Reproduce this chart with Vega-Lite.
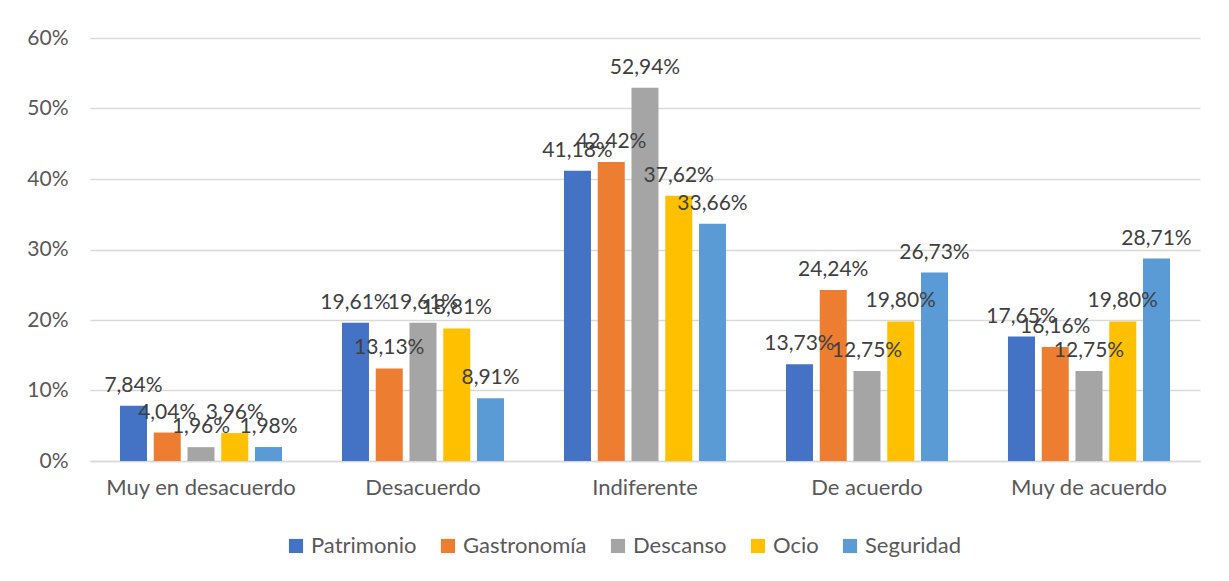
{
  "$schema": "https://vega.github.io/schema/vega-lite/v6.json",
  "autosize": {"type": "none"},
  "width": 1110,
  "height": 423,
  "padding": {"left": 90, "top": 38, "right": 29, "bottom": 120},
  "background": "white",
  "config": {
    "locale": {"number": {"decimal": ",", "thousands": ".", "grouping": [3], "currency": ["", " €"]}},
    "view": {"stroke": null},
    "font": "Lato"
  },
  "data": {
    "values": [
      {"cat": "Muy en desacuerdo", "serie": "Patrimonio", "v": 0.0784},
      {"cat": "Muy en desacuerdo", "serie": "Gastronomía", "v": 0.0404},
      {"cat": "Muy en desacuerdo", "serie": "Descanso", "v": 0.0196},
      {"cat": "Muy en desacuerdo", "serie": "Ocio", "v": 0.0396},
      {"cat": "Muy en desacuerdo", "serie": "Seguridad", "v": 0.0198},
      {"cat": "Desacuerdo", "serie": "Patrimonio", "v": 0.1961},
      {"cat": "Desacuerdo", "serie": "Gastronomía", "v": 0.1313},
      {"cat": "Desacuerdo", "serie": "Descanso", "v": 0.1961},
      {"cat": "Desacuerdo", "serie": "Ocio", "v": 0.1881},
      {"cat": "Desacuerdo", "serie": "Seguridad", "v": 0.0891},
      {"cat": "Indiferente", "serie": "Patrimonio", "v": 0.4118},
      {"cat": "Indiferente", "serie": "Gastronomía", "v": 0.4242},
      {"cat": "Indiferente", "serie": "Descanso", "v": 0.5294},
      {"cat": "Indiferente", "serie": "Ocio", "v": 0.3762},
      {"cat": "Indiferente", "serie": "Seguridad", "v": 0.3366},
      {"cat": "De acuerdo", "serie": "Patrimonio", "v": 0.1373},
      {"cat": "De acuerdo", "serie": "Gastronomía", "v": 0.2424},
      {"cat": "De acuerdo", "serie": "Descanso", "v": 0.1275},
      {"cat": "De acuerdo", "serie": "Ocio", "v": 0.198},
      {"cat": "De acuerdo", "serie": "Seguridad", "v": 0.2673},
      {"cat": "Muy de acuerdo", "serie": "Patrimonio", "v": 0.1765},
      {"cat": "Muy de acuerdo", "serie": "Gastronomía", "v": 0.1616},
      {"cat": "Muy de acuerdo", "serie": "Descanso", "v": 0.1275},
      {"cat": "Muy de acuerdo", "serie": "Ocio", "v": 0.198},
      {"cat": "Muy de acuerdo", "serie": "Seguridad", "v": 0.2871}
    ]
  },
  "encoding": {
    "x": {
      "field": "cat", "type": "nominal",
      "sort": ["Muy en desacuerdo", "Desacuerdo", "Indiferente", "De acuerdo", "Muy de acuerdo"],
      "scale": {"paddingInner": 0.27, "paddingOuter": 0.135},
      "axis": {"title": null, "labelAngle": 0, "labelFontSize": 22, "labelColor": "#595959", "labelPadding": 16, "ticks": false, "domainColor": "#d9d9d9", "domainWidth": 1.5, "labelFont": "Lato", "labelOverlap": false, "labelLimit": 0}
    },
    "xOffset": {
      "field": "serie", "type": "nominal",
      "sort": ["Patrimonio", "Gastronomía", "Descanso", "Ocio", "Seguridad"],
      "scale": {"paddingInner": 0.2, "paddingOuter": 0}
    },
    "y": {
      "field": "v", "type": "quantitative",
      "scale": {"domain": [0, 0.6]},
      "axis": {"title": null, "format": ".0%", "values": [0, 0.1, 0.2, 0.3, 0.4, 0.5, 0.6], "labelFontSize": 21, "labelColor": "#595959", "labelPadding": 22, "ticks": false, "domain": false, "gridColor": "#d9d9d9", "gridWidth": 1.5, "labelFont": "Lato", "labelOverlap": false}
    }
  },
  "layer": [
    {
      "mark": {"type": "bar"},
      "encoding": {
        "color": {
          "field": "serie", "type": "nominal",
          "sort": ["Patrimonio", "Gastronomía", "Descanso", "Ocio", "Seguridad"],
          "scale": {"domain": ["Patrimonio", "Gastronomía", "Descanso", "Ocio", "Seguridad"], "range": ["#4472c4", "#ed7d31", "#a5a5a5", "#ffc000", "#5b9bd5"]},
          "legend": {"title": null, "orient": "none", "legendX": 195, "legendY": 497, "direction": "horizontal", "symbolType": "square", "symbolSize": 200, "symbolStrokeWidth": 0, "labelFontSize": 22, "labelColor": "#595959", "labelFont": "Lato", "columnPadding": 20, "labelOffset": 4}
        }
      }
    },
    {
      "mark": {"type": "text", "baseline": "bottom", "dy": -10, "fontSize": 21, "color": "#404040", "font": "Lato"},
      "encoding": {
        "text": {"field": "v", "type": "quantitative", "format": ".2%"}
      }
    }
  ]
}
